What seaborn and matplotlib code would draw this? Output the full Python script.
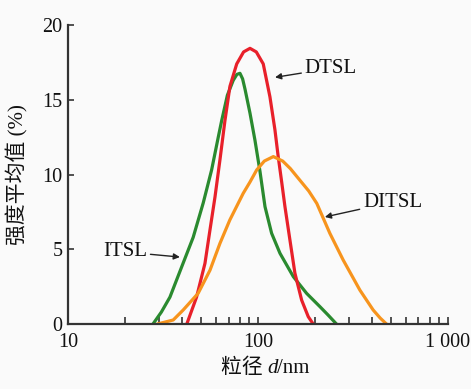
import numpy as np
import pandas as pd
import matplotlib
matplotlib.use("Agg")
import matplotlib.pyplot as plt
import seaborn as sns
from matplotlib.ticker import FixedLocator, FixedFormatter, NullFormatter
from matplotlib.offsetbox import TextArea, HPacker, AnchoredOffsetbox

# ---- data ----
itsl_x = [28.0, 31.0, 34.4, 39.6, 45.6, 51.5, 57.0, 61.8, 64.4, 69.0, 74.1, 77.5, 80.4, 83.0, 85.5, 90.8, 96.4, 102.5, 108.9, 118, 130.6, 153.5, 180.4, 212, 234, 259]
itsl_y = [0, 0.8, 1.8, 3.8, 5.8, 8.1, 10.3, 12.5, 13.6, 15.3, 16.3, 16.7, 16.77, 16.4, 15.7, 14.1, 12.3, 10.2, 7.85, 6.07, 4.73, 3.17, 2.05, 1.16, 0.6, 0]

dtsl_x = [42.2, 47.5, 52.6, 55.9, 59.4, 63.1, 67.0, 71.2, 77.3, 84, 90.8, 98, 106.6, 115.6, 122.8, 127.8, 133.3, 138.7, 147.4, 156.5, 169.8, 184, 195.4]
dtsl_y = [0, 1.8, 4.06, 6.3, 8.5, 11.0, 13.6, 15.9, 17.4, 18.2, 18.44, 18.2, 17.4, 15.2, 13.0, 11.2, 9.5, 7.85, 5.6, 3.4, 1.6, 0.49, 0]

ditsl_x = [29.5, 35.8, 40.4, 48.4, 55.9, 63.1, 71.1, 83.6, 90.8, 98.4, 108, 120.5, 135, 148, 163, 185, 204, 239, 281, 344, 404, 440, 475]
ditsl_y = [0, 0.27, 0.94, 2.05, 3.6, 5.4, 6.96, 8.74, 9.5, 10.3, 10.9, 11.2, 10.9, 10.4, 9.75, 8.9, 8.07, 6.07, 4.28, 2.27, 0.94, 0.4, 0]

series_names = ["ITSL", "DTSL", "DITSL"]
series_colors = ["#2a8a2f", "#e8202a", "#f7941d"]

x_ticks = [10, 100, 1000]
x_tick_labels = ["10", "100", "1 000"]
y_ticks = [0, 5, 10, 15, 20]
y_tick_labels = ["0", "5", "10", "15", "20"]

df = pd.concat([
    pd.DataFrame({"d": itsl_x, "v": itsl_y, "s": "ITSL"}),
    pd.DataFrame({"d": dtsl_x, "v": dtsl_y, "s": "DTSL"}),
    pd.DataFrame({"d": ditsl_x, "v": ditsl_y, "s": "DITSL"}),
], ignore_index=True)

sns.set_style("ticks")
plt.rcParams["font.family"] = ["Liberation Serif", "Noto Sans CJK SC", "DejaVu Sans"]

BG = "#fafafa"
TXT = "#111111"
fig = plt.figure(figsize=(4.71, 3.89), dpi=100, facecolor=BG)
ax = fig.add_axes([0.1444, 0.167, 0.8066, 0.7687])
ax.set_facecolor(BG)

sns.lineplot(data=df, x="d", y="v", hue="s", hue_order=series_names,
             palette=series_colors, linewidth=2.3, legend=False, ax=ax,
             sort=False, estimator=None)

ax.set_xscale("log")
ax.set_xlim(10, 1000)
ax.set_ylim(0, 20)

ax.xaxis.set_major_locator(FixedLocator(x_ticks))
ax.xaxis.set_major_formatter(FixedFormatter(x_tick_labels))
minor = [m * 10 ** e for e in (1, 2) for m in range(2, 10)]
ax.xaxis.set_minor_locator(FixedLocator(minor))
ax.xaxis.set_minor_formatter(NullFormatter())
ax.yaxis.set_major_locator(FixedLocator(y_ticks))
ax.yaxis.set_major_formatter(FixedFormatter(y_tick_labels))

ax.tick_params(axis="both", which="both", direction="in", colors="#333333",
               width=1.2, labelsize=14.5, labelcolor=TXT)
ax.tick_params(axis="x", which="major", length=5, pad=6.5)
ax.tick_params(axis="x", which="minor", length=5)
ax.tick_params(axis="y", which="major", length=4, pad=4)

for side in ("top", "right"):
    ax.spines[side].set_visible(False)
for side in ("left", "bottom"):
    ax.spines[side].set_color("#333333")
    ax.spines[side].set_linewidth(1.6)

ax.set_xlabel("")
ax.set_ylabel("强度平均值 (%)", fontsize=15, color=TXT)
ax.yaxis.set_label_coords(-0.105, 0.5)

# x label: "粒径 d/nm" with italic d
parts = HPacker(children=[
    TextArea("粒径 ", textprops=dict(fontsize=15, color=TXT,
                                   family=["Noto Sans CJK SC", "Liberation Serif"])),
    TextArea("d", textprops=dict(fontsize=15, color=TXT, style="italic",
                                 family="Liberation Serif")),
    TextArea("/nm", textprops=dict(fontsize=15, color=TXT,
                                   family="Liberation Serif")),
], align="baseline", pad=0, sep=0)
box = AnchoredOffsetbox(loc="center", child=parts, pad=0, borderpad=0,
                        frameon=False, bbox_to_anchor=(0.563, 0.056),
                        bbox_transform=fig.transFigure)
ax.add_artist(box)

arrow = dict(arrowstyle="-|>", color="#222222", lw=1.0, mutation_scale=9,
             shrinkA=0, shrinkB=0)
ax.annotate("DTSL", xy=(123, 16.5), xytext=(176, 17.1), fontsize=15,
            va="center", ha="left", arrowprops=arrow, color=TXT)
ax.annotate("DITSL", xy=(225, 7.16), xytext=(357, 8.16), fontsize=15,
            va="center", ha="left", arrowprops=arrow, color=TXT)
ax.annotate("ITSL", xy=(38.8, 4.48), xytext=(26.1, 4.82), fontsize=15,
            va="center", ha="right", arrowprops=arrow, color=TXT)

fig.savefig("out.png", dpi=100, facecolor=fig.get_facecolor())
